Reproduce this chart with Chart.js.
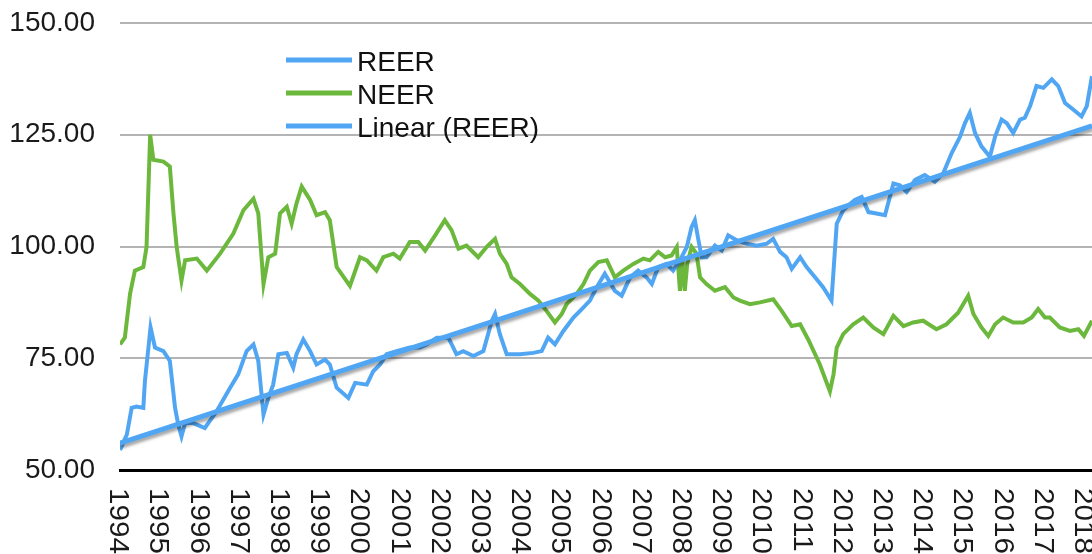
<!DOCTYPE html>
<html>
<head>
<meta charset="utf-8">
<script src="https://cdn.jsdelivr.net/npm/chart.js@4.4.1/dist/chart.umd.min.js"></script>
<style>
  body { margin: 0; background: #fff; }
  #wrap { width: 1092px; height: 554px; position: relative; }
</style>
</head>
<body>
<div id="wrap"><canvas id="rateChart"></canvas></div>
<script>
// year labels on the x axis
const yearLabels = [1994, 1995, 1996, 1997, 1998, 1999, 2000, 2001, 2002, 2003, 2004, 2005,
  2006, 2007, 2008, 2009, 2010, 2011, 2012, 2013, 2014, 2015, 2016, 2017, 2018];
const yTicks = [50, 75, 100, 125, 150];

// REER (decimal years)
const reerYears = [1994.00, 1994.17, 1994.29, 1994.41, 1994.58, 1994.62, 1994.76, 1994.87, 1995.08, 1995.24,
  1995.37, 1995.45, 1995.53, 1995.62, 1995.82, 1996.11, 1996.40, 1996.74, 1996.94, 1997.15,
  1997.32, 1997.44, 1997.57, 1997.69, 1997.81, 1997.94, 1998.15, 1998.31, 1998.39, 1998.56,
  1998.73, 1998.89, 1999.10, 1999.22, 1999.39, 1999.68, 1999.85, 2000.14, 2000.30, 2000.47,
  2000.63, 2000.88, 2001.21, 2001.46, 2001.63, 2001.88, 2002.17, 2002.37, 2002.54, 2002.79,
  2003.04, 2003.25, 2003.33, 2003.45, 2003.62, 2003.95, 2004.28, 2004.49, 2004.65, 2004.82,
  2005.03, 2005.28, 2005.53, 2005.69, 2005.86, 2006.06, 2006.31, 2006.48, 2006.69, 2006.89,
  2007.10, 2007.23, 2007.39, 2007.60, 2007.76, 2007.93, 2008.10, 2008.22, 2008.30, 2008.39,
  2008.47, 2008.59, 2008.80, 2008.97, 2009.13, 2009.34, 2009.59, 2009.84, 2010.08, 2010.25,
  2010.42, 2010.58, 2010.71, 2010.92, 2011.08, 2011.29, 2011.49, 2011.70, 2011.83, 2011.99,
  2012.08, 2012.28, 2012.45, 2012.62, 2012.82, 2013.03, 2013.24, 2013.40, 2013.57, 2013.78,
  2014.02, 2014.27, 2014.48, 2014.69, 2014.90, 2015.02, 2015.14, 2015.27, 2015.43, 2015.64,
  2015.77, 2015.93, 2016.06, 2016.22, 2016.39, 2016.51, 2016.64, 2016.80, 2016.97, 2017.18,
  2017.34, 2017.51, 2017.72, 2017.92, 2018.05, 2018.18];
const reerValues = [54.5, 57.9, 63.9, 64.2, 63.9, 69.9, 81.9, 77.4, 76.6, 74.4,
  63.9, 60.1, 57.5, 60.5, 60.5, 59.4, 63.1, 68.4, 71.4, 76.6,
  78.1, 74.4, 62.4, 66.1, 69.1, 75.9, 76.2, 72.9, 75.9, 79.2,
  76.6, 73.6, 74.7, 73.6, 68.4, 66.1, 69.5, 69.1, 72.1, 73.6,
  75.9, 76.6, 77.4, 77.4, 78.1, 79.6, 79.6, 75.9, 76.6, 75.5,
  76.6, 83.4, 84.9, 80.4, 75.9, 75.9, 76.2, 76.6, 79.6, 78.1,
  81.1, 84.1, 86.4, 87.9, 90.9, 93.9, 90.1, 89.0, 93.1, 94.6,
  93.1, 91.6, 95.4, 96.1, 94.6, 96.9, 99.9, 104.4, 105.9, 101.4,
  97.6, 97.6, 100.2, 99.1, 102.5, 101.4, 100.6, 100.2, 100.6, 101.7,
  98.8, 97.6, 95.0, 97.6, 95.4, 93.1, 90.9, 87.9, 105.1, 108.1,
  108.9, 110.4, 111.1, 107.7, 107.4, 107.0, 114.1, 113.7, 112.2, 114.9,
  116.0, 114.5, 116.4, 120.9, 124.6, 127.6, 129.9, 125.4, 122.4, 120.1,
  124.6, 128.4, 127.6, 125.4, 128.4, 128.8, 131.4, 135.9, 135.5, 137.4,
  135.9, 132.1, 130.6, 129.1, 131.4, 138.1];

// NEER
const neerYears = [1994.00, 1994.12, 1994.25, 1994.37, 1994.58, 1994.66, 1994.75, 1994.83, 1995.08, 1995.24,
  1995.33, 1995.41, 1995.53, 1995.62, 1995.91, 1996.16, 1996.49, 1996.82, 1997.07, 1997.32,
  1997.44, 1997.57, 1997.69, 1997.86, 1997.98, 1998.15, 1998.27, 1998.39, 1998.52, 1998.73,
  1998.89, 1999.10, 1999.22, 1999.39, 1999.72, 1999.97, 2000.14, 2000.38, 2000.55, 2000.80,
  2000.96, 2001.21, 2001.42, 2001.59, 2001.84, 2002.08, 2002.25, 2002.42, 2002.62, 2002.91,
  2003.12, 2003.33, 2003.45, 2003.62, 2003.74, 2003.95, 2004.20, 2004.41, 2004.61, 2004.82,
  2004.99, 2005.11, 2005.36, 2005.53, 2005.69, 2005.90, 2006.11, 2006.31, 2006.52, 2006.77,
  2007.02, 2007.18, 2007.39, 2007.56, 2007.72, 2007.85, 2007.93, 2007.99, 2008.05, 2008.11,
  2008.22, 2008.34, 2008.43, 2008.59, 2008.80, 2009.05, 2009.26, 2009.42, 2009.67, 2009.92,
  2010.25, 2010.46, 2010.71, 2010.92, 2011.12, 2011.41, 2011.66, 2011.75, 2011.83, 2011.99,
  2012.24, 2012.49, 2012.74, 2012.99, 2013.24, 2013.49, 2013.73, 2013.98, 2014.31, 2014.56,
  2014.85, 2015.10, 2015.23, 2015.43, 2015.60, 2015.77, 2015.97, 2016.22, 2016.47, 2016.68,
  2016.84, 2017.01, 2017.13, 2017.38, 2017.63, 2017.84, 2017.98, 2018.18];
const neerValues = [78.1, 79.6, 89.4, 94.6, 95.4, 99.9, 125.0, 119.4, 119.0, 117.9,
  107.4, 99.9, 92.4, 96.9, 97.3, 94.6, 98.4, 102.9, 108.1, 110.7,
  107.4, 91.6, 97.6, 98.4, 107.4, 108.9, 105.1, 109.6, 113.4, 110.4,
  107.0, 107.7, 105.9, 95.4, 91.2, 97.6, 96.9, 94.6, 97.6, 98.4,
  97.3, 101.0, 101.0, 99.1, 102.5, 105.9, 103.6, 99.5, 100.2, 97.6,
  99.9, 101.7, 98.4, 96.1, 93.1, 91.6, 89.4, 87.9, 85.6, 83.0,
  84.9, 87.1, 89.4, 91.6, 94.6, 96.5, 96.9, 93.1, 94.6, 96.1,
  97.3, 96.9, 98.8, 97.6, 98.0, 99.9, 90.1, 96.9, 90.1, 96.1,
  99.9, 98.4, 93.1, 91.6, 90.1, 90.9, 88.6, 87.9, 87.1, 87.5,
  88.2, 85.6, 82.2, 82.6, 79.2, 73.6, 67.6, 71.4, 77.4, 80.4,
  82.6, 84.1, 81.9, 80.4, 84.5, 82.2, 83.0, 83.4, 81.5, 82.6,
  85.2, 89.0, 84.9, 81.9, 80.0, 82.6, 84.1, 83.0, 83.0, 84.1,
  86.0, 84.1, 84.1, 81.9, 81.1, 81.5, 80.0, 83.4];

// Linear (REER) trend line, two ends
const trendYears = [1994.00, 2018.18];
const trendValues = [56.0, 127.0];

const xMin = 1994;
const xMax = 2018.18;

const fontFamily = '"Liberation Sans", Arial, Helvetica, sans-serif';
const blue = '#50a6f3';
const green = '#6cb83c';

const toPoints = (xs, ys) => xs.map((x, i) => ({ x: x, y: ys[i] }));

// soft grey shadow under the trend line, like the spreadsheet does
const trendShadow = {
  id: 'trendShadow',
  beforeDatasetDraw(chart, args) {
    if (args.index !== 2) return;
    const ctx = chart.ctx;
    ctx.save();
    ctx.shadowColor = 'rgba(0,0,0,0.35)';
    ctx.shadowOffsetY = 3;
    ctx.shadowOffsetX = 1;
    ctx.shadowBlur = 3;
  },
  afterDatasetDraw(chart, args) {
    if (args.index !== 2) return;
    chart.ctx.restore();
  }
};

// year labels turned clockwise (read top to bottom)
const yearTicks = {
  id: 'yearTicks',
  afterDraw(chart) {
    const ctx = chart.ctx;
    const xs = chart.scales.x;
    ctx.save();
    ctx.fillStyle = '#1a1a1a';
    ctx.font = '28px ' + fontFamily;
    ctx.textAlign = 'left';
    ctx.textBaseline = 'middle';
    yearLabels.forEach(y => {
      const px = xs.getPixelForValue(y) - 2;
      ctx.save();
      ctx.translate(px, chart.chartArea.bottom + 18);
      ctx.rotate(Math.PI / 2);
      ctx.scale(1.06, 1);
      ctx.fillText(String(y), 0, 0);
      ctx.restore();
    });
    ctx.restore();
  }
};

// legend inside the plot, upper left
const legendBox = {
  id: 'legendBox',
  afterDraw(chart) {
    const ctx = chart.ctx;
    ctx.save();
    ctx.font = '28px ' + fontFamily;
    ctx.textBaseline = 'middle';
    ctx.textAlign = 'left';
    chart.data.datasets.forEach((ds, i) => {
      const y = 60 + i * 33;
      ctx.strokeStyle = ds.borderColor;
      ctx.lineWidth = 5;
      ctx.beginPath();
      ctx.moveTo(286, y);
      ctx.lineTo(352, y);
      ctx.stroke();
      ctx.fillStyle = '#111';
      ctx.fillText(ds.label, 357, y + 3);
    });
    ctx.restore();
  }
};

const ctx = document.getElementById('rateChart').getContext('2d');
new Chart(ctx, {
  type: 'line',
  data: {
    datasets: [
      {
        label: 'REER',
        data: toPoints(reerYears, reerValues),
        borderColor: blue,
        borderWidth: 4,
        pointRadius: 0,
        tension: 0,
        order: 1
      },
      {
        label: 'NEER',
        data: toPoints(neerYears, neerValues),
        borderColor: green,
        borderWidth: 4,
        pointRadius: 0,
        tension: 0,
        order: 2
      },
      {
        label: 'Linear (REER)',
        data: toPoints(trendYears, trendValues),
        borderColor: blue,
        borderWidth: 5,
        pointRadius: 0,
        tension: 0,
        order: 0
      }
    ]
  },
  options: {
    responsive: true,
    maintainAspectRatio: false,
    animation: false,
    layout: { padding: { top: 23, right: 0, left: 0, bottom: 0 } },
    plugins: {
      legend: { display: false },
      tooltip: { enabled: false }
    },
    scales: {
      x: {
        type: 'linear',
        min: xMin,
        max: xMax,
        ticks: { display: false },
        grid: { display: false },
        border: { display: true, color: '#000', width: 3 },
        afterFit: (scale) => { scale.height = 84; }
      },
      y: {
        min: 50,
        max: 150,
        afterBuildTicks: (scale) => { scale.ticks = yTicks.map(v => ({ value: v })); },
        ticks: {
          padding: 25,
          color: '#1a1a1a',
          font: { family: fontFamily, size: 28 },
          callback: (v) => Number(v).toFixed(2)
        },
        grid: { color: '#b4b4b4', lineWidth: 2, drawTicks: false },
        border: { display: false },
        afterFit: (scale) => {
          scale.width = 120;
          // labels may stick out past the plot edge, like the original
          scale.paddingTop = 0;
          scale.paddingBottom = 0;
        }
      }
    }
  },
  plugins: [trendShadow, yearTicks, legendBox]
});
</script>
</body>
</html>
